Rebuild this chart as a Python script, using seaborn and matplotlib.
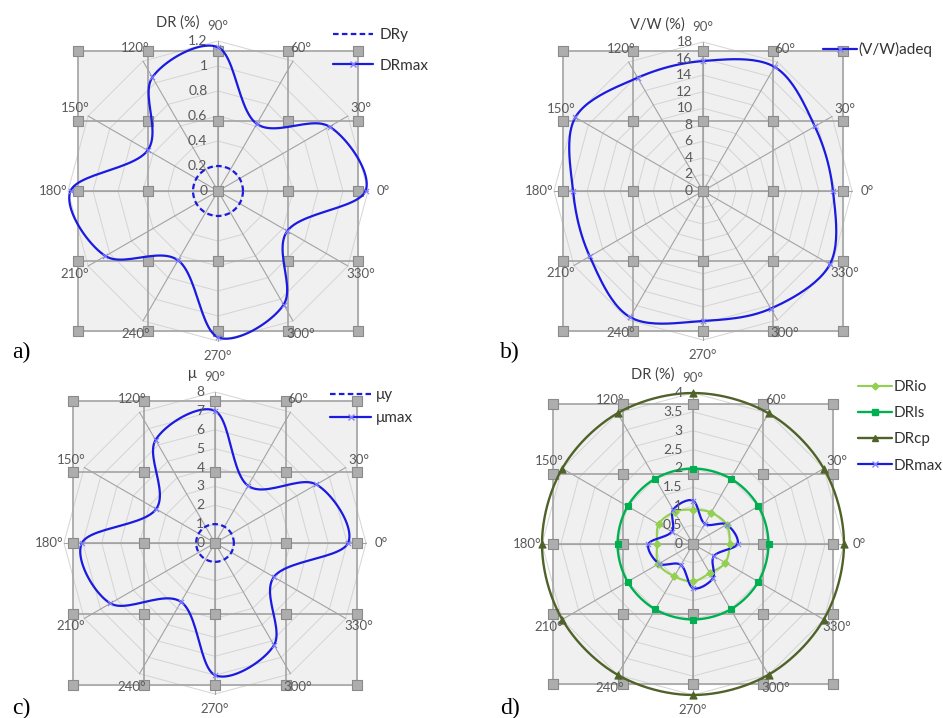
import numpy as np
import matplotlib
matplotlib.use("Agg")
import matplotlib.pyplot as plt
from matplotlib.lines import Line2D
import seaborn as sns

# categories (degrees), shared by all four radar panels
angles = [0, 30, 60, 90, 120, 150, 180, 210, 240, 270, 300, 330]

# a) drift ratio
dr_y = [0.2] * 12
dr_max = [1.18, 1.03, 0.62, 1.15, 1.05, 0.65, 1.18, 1.04, 0.64, 1.17, 1.05, 0.64]
ticks_a = [0, 0.2, 0.4, 0.6, 0.8, 1, 1.2]

# b) base shear over weight
vw_adeq = [15.7, 15.6, 17.3, 15.7, 15.8, 17.8, 15.7, 15.8, 17.6, 15.7, 16.4, 17.7]
ticks_b = [0, 2, 4, 6, 8, 10, 12, 14, 16, 18]

# c) ductility
mu_y = [1.0] * 12
mu_max = [7.05, 6.2, 3.5, 7.0, 6.3, 3.6, 7.05, 6.4, 3.6, 7.0, 6.25, 3.6]
ticks_c = [0, 1, 2, 3, 4, 5, 6, 7, 8]

# d) performance levels
dr_io = [0.97, 1.03, 0.96, 0.91, 0.98, 1.05, 0.95, 1.06, 0.99, 0.99, 0.89, 0.99]
dr_ls = [2.0] * 12
dr_cp = [4.0] * 12
ticks_d = [0, 0.5, 1, 1.5, 2, 2.5, 3, 3.5, 4]

W, H = 943, 718
BLUE = "#1a1ae0"
GRID = "#a3a3a3"

sns.set_theme(style="white")
plt.rcParams["font.family"] = ["Lato", "DejaVu Sans"]

fig = plt.figure(figsize=(W / 100, H / 100), dpi=100)


def smooth_closed(x, y, n=24):
    # closed Catmull-Rom curve through the points (Excel-like smoothing)
    P = np.column_stack([x, y])
    N = len(P)
    t = np.linspace(0, 1, n, endpoint=False)[:, None]
    out = []
    for i in range(N):
        p0, p1, p2, p3 = P[i - 1], P[i], P[(i + 1) % N], P[(i + 2) % N]
        out.append(0.5 * (2 * p1 + (-p0 + p2) * t
                          + (2 * p0 - 5 * p1 + 4 * p2 - p3) * t ** 2
                          + (-p0 + 3 * p1 - 3 * p2 + p3) * t ** 3))
    out.append(P[:1])
    out = np.vstack(out)
    return out[:, 0], out[:, 1]


def to_xy(vals, rmax):
    th = np.deg2rad(angles)
    r = np.asarray(vals, float) / rmax
    return r * np.cos(th), r * np.sin(th)


def radar_panel(cx, cy, R, half, ticks, title):
    L = 1.2
    ax = fig.add_axes([(cx - L * R) / W, (H - cy - L * R) / H, 2 * L * R / W, 2 * L * R / H])
    ax.set_xlim(-L, L)
    ax.set_ylim(-L, L)
    ax.axis("off")
    s = half / R
    th = np.deg2rad(angles + [0])
    # plot area background (square only)
    ax.fill([-s, s, s, -s], [-s, -s, s, s], color="#f0f0f0", zorder=0)
    # spider rings and spokes
    rmax = ticks[-1]
    for tk in ticks[1:]:
        f = tk / rmax
        ax.plot(f * np.cos(th), f * np.sin(th), color="#d4d4d4", lw=0.7, zorder=1)
    for a in angles:
        ax.plot([0, np.cos(np.deg2rad(a))], [0, np.sin(np.deg2rad(a))], color=GRID, lw=0.8, zorder=1)
    # square grid with node markers
    nodes = np.linspace(-s, s, 5)
    for v in nodes:
        ax.plot([v, v], [-s, s], color=GRID, lw=1.2, zorder=2)
        ax.plot([-s, s], [v, v], color=GRID, lw=1.2, zorder=2)
    gx, gy = np.meshgrid(nodes, nodes)
    sns.scatterplot(x=gx.ravel(), y=gy.ravel(), marker="s", s=42, color="#adadad",
                    edgecolor="#8a8a8a", linewidth=0.8, ax=ax, zorder=3)
    # radial tick labels
    for tk in ticks:
        ax.text(-0.07, tk / rmax, f"{tk:g}", ha="right", va="center",
                fontsize=10, color="#595959", zorder=6)
    # category labels
    for a in angles:
        r = 1.1
        ax.text(r * np.cos(np.deg2rad(a)), r * np.sin(np.deg2rad(a)), f"{a}°",
                ha="center", va="center", fontsize=9.5, color="#595959", zorder=6)
    ax.text(-0.12, 1.12, title, ha="right", va="center", fontsize=10.5, color="#404040")
    return ax


def curve(ax, vals, rmax, color, lw=1.6, ls="-", marker=None, ms=20, mcolor=None):
    x, y = to_xy(vals, rmax)
    sx, sy = smooth_closed(x, y)
    sns.lineplot(x=sx, y=sy, sort=False, estimator=None, color=color, lw=lw,
                 linestyle=ls, ax=ax, zorder=4)
    if marker is not None:
        sns.scatterplot(x=x, y=y, marker=marker, s=ms, color=mcolor or color,
                        edgecolor=mcolor or color, linewidth=0.8, ax=ax, zorder=5)


def add_legend(ax, handles, labels, x, y, hl, htp, ls):
    ax.legend(handles, labels, loc="upper left", bbox_to_anchor=(x / W, 1 - y / H),
              bbox_transform=fig.transFigure, frameon=False, borderpad=0,
              borderaxespad=0, handlelength=hl, handletextpad=htp, labelspacing=ls,
              prop={"size": 11}, labelcolor="#333333")


# a)
ax_a = radar_panel(218, 191, 150, 140, ticks_a, "DR (%)")
curve(ax_a, dr_y, 1.2, BLUE, ls=(0, (2.5, 1.5)))
curve(ax_a, dr_max, 1.2, BLUE, marker="x", ms=14, mcolor="#8080ff")
add_legend(ax_a,
           [Line2D([], [], color=BLUE, lw=1.6, ls=(0, (2.5, 1.5))),
            Line2D([], [], color=BLUE, lw=1.6, marker="x", ms=4, mec="#8080ff")],
           ["DRy", "DRmax"], 333, 28, 2.6, 0.45, 1.1)

# b)
ax_b = radar_panel(703, 191, 149, 140, ticks_b, "V/W (%)")
curve(ax_b, vw_adeq, 18, BLUE, marker="x", ms=14, mcolor="#8080ff")
add_legend(ax_b, [Line2D([], [], color=BLUE, lw=1.6, marker="x", ms=4, mec="#8080ff")],
           ["(V/W)adeq"], 823, 42, 2.2, 0.1, 1.0)

# c)
ax_c = radar_panel(215, 543, 151, 142, ticks_c, "μ")
curve(ax_c, mu_y, 8, BLUE, ls=(0, (2.5, 1.5)))
curve(ax_c, mu_max, 8, BLUE, marker="x", ms=14, mcolor="#8080ff")
add_legend(ax_c,
           [Line2D([], [], color=BLUE, lw=1.6, ls=(0, (2.5, 1.5))),
            Line2D([], [], color=BLUE, lw=1.6, marker="x", ms=4, mec="#8080ff")],
           ["μy", "μmax"], 330, 388, 2.7, 0.3, 0.6)

# d)
ax_d = radar_panel(693, 544, 151, 140, ticks_d, "DR (%)")
curve(ax_d, dr_io, 4, "#92d050", lw=1.5, marker="D", ms=14)
curve(ax_d, dr_ls, 4, "#00b050", lw=1.7, marker="s", ms=22)
curve(ax_d, dr_cp, 4, "#4f6228", lw=1.7, marker="^", ms=26)
curve(ax_d, dr_max, 4, BLUE, marker="x", ms=14, mcolor="#8080ff")
add_legend(ax_d,
           [Line2D([], [], color="#92d050", lw=1.5, marker="D", ms=3.5),
            Line2D([], [], color="#00b050", lw=1.7, marker="s", ms=4.5),
            Line2D([], [], color="#4f6228", lw=1.7, marker="^", ms=5),
            Line2D([], [], color=BLUE, lw=1.6, marker="x", ms=4, mec="#8080ff")],
           ["DRio", "DRls", "DRcp", "DRmax"], 858, 380, 2.2, 0.15, 0.8)

# panel letters
for lab, x, y in [("a)", 12, 352), ("b)", 500, 352), ("c)", 12, 708), ("d)", 500, 708)]:
    fig.text(x / W, 1 - y / H, lab, fontsize=17, family="Liberation Serif",
             ha="left", va="center", color="black")

fig.savefig("out.png", dpi=100)
